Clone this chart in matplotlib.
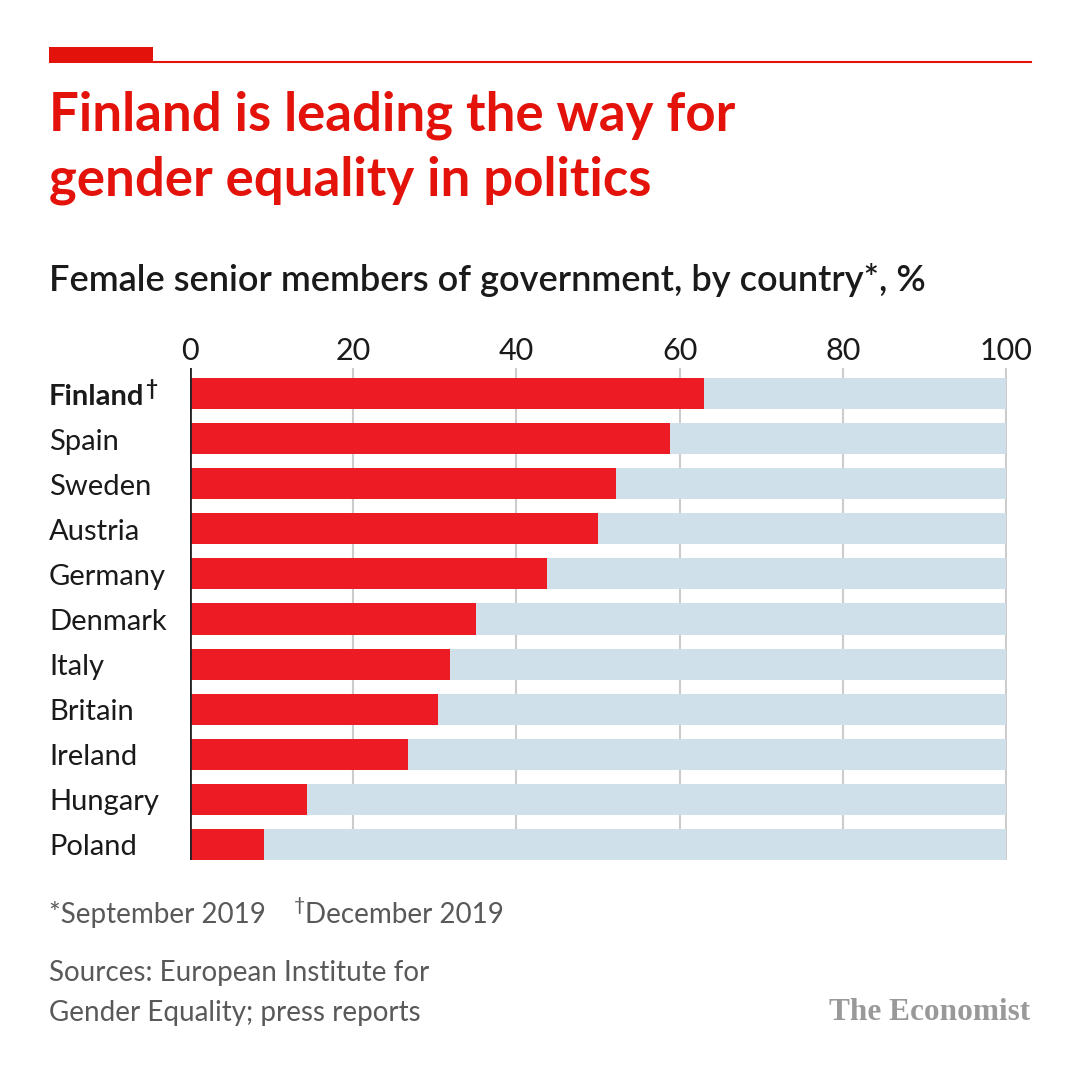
import matplotlib.pyplot as plt
from matplotlib.patches import Rectangle
from matplotlib.lines import Line2D
from matplotlib.transforms import blended_transform_factory, offset_copy

# data
countries = ["Finland", "Spain", "Sweden", "Austria", "Germany", "Denmark",
             "Italy", "Britain", "Ireland", "Hungary", "Poland"]
female_pct = [63.0, 58.8, 52.2, 50.0, 43.8, 35.0, 31.8, 30.4, 26.7, 14.3, 9.1]
total_pct = [100] * len(countries)
x_ticks = [0, 20, 40, 60, 80, 100]

RED = "#E3120B"
BAR_RED = "#ED1C24"
LIGHT = "#CFE0EA"
TXT = "#1a1a1a"
GREY = "#595959"
FONT = "Lato"

plt.rcParams['font.family'] = [FONT, 'DejaVu Sans']

fig = plt.figure(figsize=(10.8, 10.8), dpi=100)
W = H = 1080.0
renderer = fig.canvas.get_renderer()

# top red rule
fig.patches.append(Rectangle((49 / W, 1 - 63 / H), 104 / W, 16 / H,
                             transform=fig.transFigure, color=RED, lw=0))
fig.lines.append(Line2D([153 / W, 1031 / W], [1 - 62 / H, 1 - 62 / H],
                        transform=fig.transFigure, color=RED, lw=1.5))

# title + subtitle
fig.text(49 / W, 1 - 115 / H, "Finland is leading the way for",
         color=RED, fontsize=38, fontweight="bold", va="center")
fig.text(49 / W, 1 - 180 / H, "gender equality in politics",
         color=RED, fontsize=38, fontweight="bold", va="center")
fig.text(49 / W, 1 - 280 / H, "Female senior members of government, by country*, %",
         color=TXT, fontsize=26, fontweight="semibold", va="center")

ax = fig.add_axes([190 / W, (H - 860) / H, (1007 - 190) / W, (860 - 368) / H])
y = list(range(len(countries)))
ax.barh(y, total_pct, height=0.69, color=LIGHT, zorder=2)
ax.barh(y, female_pct, height=0.69, color=BAR_RED, zorder=3)

ax.set_xlim(0, 100.1)
ax.set_ylim(len(countries) - 1 + 0.345, -0.567)
ax.set_xticks(x_ticks)
ax.xaxis.tick_top()
ax.tick_params(axis="x", length=0, pad=2, labelsize=22, labelcolor=TXT)
for t in x_ticks[1:]:
    ax.axvline(t, color="#CCCCCC", lw=1.5, zorder=1)
ax.axvline(0, color="#222222", lw=2, zorder=4)

ax.set_yticks(y)
ax.set_yticklabels([])
ax.tick_params(axis="y", length=0)
lab_tr = offset_copy(blended_transform_factory(fig.transFigure, ax.transData),
                     fig=fig, x=0, y=-3, units="dots")
for i, name in enumerate(countries):
    t = ax.text(49 / W, i, name, transform=lab_tr, ha="left", va="center",
                fontsize=21, fontweight="bold" if i == 0 else "normal", color=TXT)
    if i == 0:
        bb = t.get_window_extent(renderer=renderer)
        fig.text(bb.x1 / W + 1 / W, (bb.y0 + bb.y1) / 2 / H + 2 / H, "\u2020",
                 color=TXT, fontsize=15, fontweight="bold", ha="left", va="baseline")
for s in ax.spines.values():
    s.set_visible(False)

# footnotes
t1 = fig.text(49 / W, 1 - 915 / H, "*September 2019", color=GREY, fontsize=20, va="center")
bb = t1.get_window_extent(renderer=renderer)
fig.text(bb.x1 / W + 28 / W, 1 - 911 / H, "\u2020", color=GREY, fontsize=14,
         ha="left", va="baseline")
fig.text(bb.x1 / W + 39 / W, 1 - 915 / H, "December 2019", color=GREY, fontsize=20,
         va="center")
fig.text(49 / W, 1 - 973 / H, "Sources: European Institute for",
         color=GREY, fontsize=20, va="center")
fig.text(49 / W, 1 - 1013 / H, "Gender Equality; press reports",
         color=GREY, fontsize=20, va="center")
fig.text(1030 / W, 1 - 1013 / H, "The Economist", color="#999999",
         fontsize=22.5, fontweight="bold", family="Liberation Serif", ha="right", va="center")

fig.savefig("out.png", dpi=100, facecolor="white")
